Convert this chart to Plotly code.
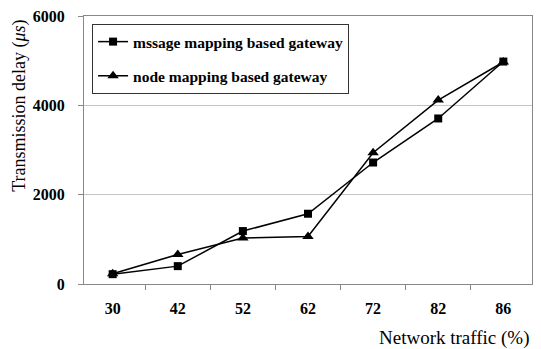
import plotly.graph_objects as go

categories = ["30", "42", "52", "62", "72", "82", "86"]
message_mapping = [220, 400, 1185, 1573, 2720, 3706, 4980]
node_mapping = [230, 662, 1030, 1066, 2940, 4118, 4970]
y_ticks = [0, 2000, 4000, 6000]

SERIF = "Liberation Serif, Times New Roman, serif"

fig = go.Figure()
fig.add_trace(go.Scatter(
    x=categories, y=message_mapping, mode="lines+markers",
    name="mssage mapping based gateway", legendgroup="a",
    line=dict(color="black", width=1.5),
    marker=dict(symbol="square", size=8, color="black"),
))
fig.add_trace(go.Scatter(
    x=categories, y=node_mapping, mode="lines+markers",
    name="node mapping based gateway", legendgroup="b",
    line=dict(color="black", width=1.5),
    marker=dict(symbol="triangle-up", size=10, color="black"),
))

fig.update_layout(
    width=541, height=349,
    margin=dict(l=84, r=8, t=12, b=65),
    plot_bgcolor="white", paper_bgcolor="white",
    font=dict(family=SERIF, color="black", size=14),
    showlegend=True,
    legend=dict(
        x=0.018, y=0.97, xanchor="left", yanchor="top",
        bordercolor="#333", borderwidth=1, bgcolor="white",
        font=dict(family=SERIF, size=15.5, color="black", weight="bold"),
        tracegroupgap=11, itemwidth=30,
    ),
    xaxis=dict(
        type="category", tickson="boundaries",
        ticks="outside", ticklen=5, tickcolor="#888",
        showline=True, linecolor="#888", linewidth=1, mirror=True,
        showgrid=False, ticklabelstandoff=10,
        tickfont=dict(family=SERIF, size=16, color="black", weight="bold"),
    ),
    yaxis=dict(
        range=[0, 6000], tickvals=y_ticks,
        ticks="outside", ticklen=5, tickcolor="#888",
        showline=True, linecolor="#888", linewidth=1, mirror=True,
        showgrid=True, gridcolor="#c4c4c4", gridwidth=1,
        zeroline=False, ticklabelstandoff=10,
        tickfont=dict(family=SERIF, size=16, color="black", weight="bold"),
    ),
    annotations=[
        dict(text="Network traffic (%)", xref="paper", yref="paper",
             x=(533 - 84) / 449, y=-(339 - 284) / 272, xanchor="right", yanchor="middle",
             showarrow=False, font=dict(family=SERIF, size=19, color="black")),
        dict(text="Transmission delay (<i>μs</i>)", xref="paper", yref="paper",
             x=(20 - 84) / 449, y=(284 - 103) / 272, xanchor="center", yanchor="middle",
             textangle=-90, showarrow=False,
             font=dict(family=SERIF, size=18, color="black")),
    ],
)

fig.write_html(
    "out.html",
    config={"displayModeBar": False},
    post_script="document.body.style.margin='0';document.body.style.overflow='hidden';",
)
